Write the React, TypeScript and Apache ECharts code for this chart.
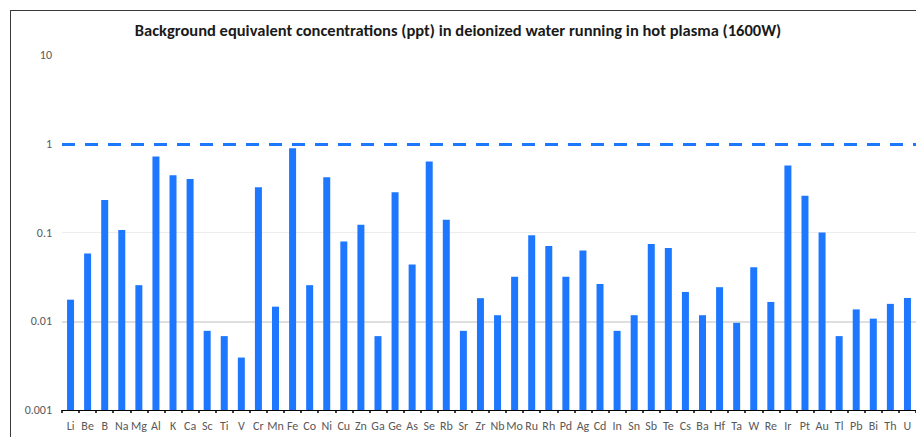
import React, { useEffect, useRef } from "react";
import * as echarts from "echarts";

const categories = [
  "Li", "Be", "B", "Na", "Mg", "Al", "K", "Ca", "Sc", "Ti",
  "V", "Cr", "Mn", "Fe", "Co", "Ni", "Cu", "Zn", "Ga", "Ge",
  "As", "Se", "Rb", "Sr", "Zr", "Nb", "Mo", "Ru", "Rh", "Pd",
  "Ag", "Cd", "In", "Sn", "Sb", "Te", "Cs", "Ba", "Hf", "Ta",
  "W", "Re", "Ir", "Pt", "Au", "Tl", "Pb", "Bi", "Th", "U",
];

const bec = [
  0.0175, 0.058, 0.233, 0.107, 0.0255, 0.72, 0.443, 0.4, 0.0078, 0.0068,
  0.0039, 0.324, 0.0146, 0.89, 0.0255, 0.42, 0.079, 0.122, 0.0068, 0.284,
  0.0435, 0.63, 0.139, 0.0078, 0.0182, 0.0117, 0.0318, 0.093, 0.0706, 0.0318,
  0.0625, 0.0263, 0.0078, 0.0117, 0.0743, 0.067, 0.0214, 0.0117, 0.0242, 0.0096,
  0.0407, 0.0165, 0.568, 0.259, 0.1, 0.0068, 0.0136, 0.0107, 0.0157, 0.0183,
];

const yTicks = [0.001, 0.01, 0.1, 1, 10];
const limitLine = 1;
const gridValues = [0.01, 0.1];

const FONT = "Carlito, 'Liberation Sans Narrow', 'Open Sans', 'Liberation Sans', sans-serif";
const BLUE = "#1e78ff";

export default function App() {
  const ref = useRef<HTMLDivElement>(null);

  useEffect(() => {
    if (!ref.current) return;
    const chart = echarts.init(ref.current, undefined, { renderer: "svg" });
    chart.setOption({
      animation: false,
      backgroundColor: "#ffffff",
      title: {
        text: "Background equivalent concentrations (ppt) in deionized water running in hot plasma (1600W)",
        left: "center",
        top: 16,
        textStyle: {
          fontFamily: FONT,
          fontSize: 16.5,
          fontWeight: "bold",
          color: "#1a1a1a",
        },
      },
      grid: { left: 62, right: -7, top: 55, bottom: 27, containLabel: false },
      xAxis: {
        type: "category",
        data: categories,
        axisLine: { lineStyle: { color: "#000000", width: 1 } },
        axisTick: { show: true, length: 3, lineStyle: { color: "#000000", width: 1.5 } },
        axisLabel: {
          interval: 0,
          fontFamily: FONT,
          fontSize: 12,
          color: "#595959",
          margin: 10,
        },
      },
      yAxis: {
        type: "log",
        logBase: 10,
        min: yTicks[0],
        max: yTicks[yTicks.length - 1],
        startValue: yTicks[0],
        axisLine: { show: false },
        axisTick: { show: false },
        splitLine: { show: false },
        axisLabel: {
          fontFamily: FONT,
          fontSize: 12,
          color: "#595959",
          margin: 10,
          formatter: (v: number) => {
            const found = yTicks.find((t) => Math.abs(Math.log10(t) - Math.log10(v)) < 1e-6);
            return found !== undefined ? String(found) : "";
          },
        },
      },
      series: [
        {
          type: "bar",
          data: bec,
          barWidth: 7,
          itemStyle: { color: BLUE },
          z: 3,
          markLine: {
            silent: true,
            symbol: "none",
            label: { show: false },
            data: [
              { yAxis: gridValues[0], lineStyle: { color: "#d4d4d4", width: 1.5, type: "solid" } },
              { yAxis: gridValues[1], lineStyle: { color: "#ececec", width: 1, type: "solid" } },
            ],
            z: 1,
          },
        },
        {
          type: "line",
          data: [],
          markLine: {
            silent: true,
            symbol: "none",
            label: { show: false },
            data: [
              {
                yAxis: limitLine,
                lineStyle: { color: BLUE, width: 3, type: [13, 10] },
              },
            ],
          },
        },
      ],
      graphic: [
        {
          type: "line",
          shape: { x1: 10, y1: 10.5, x2: 916, y2: 10.5 },
          style: { stroke: "#3a3a3a", lineWidth: 1 },
        },
        {
          type: "line",
          shape: { x1: 10.5, y1: 10, x2: 10.5, y2: 437 },
          style: { stroke: "#3a3a3a", lineWidth: 1 },
        },
      ],
    });
    return () => chart.dispose();
  }, []);

  return (
    <div
      ref={ref}
      style={{ position: "fixed", left: 0, top: 0, width: 916, height: 437, background: "#fff" }}
    />
  );
}
